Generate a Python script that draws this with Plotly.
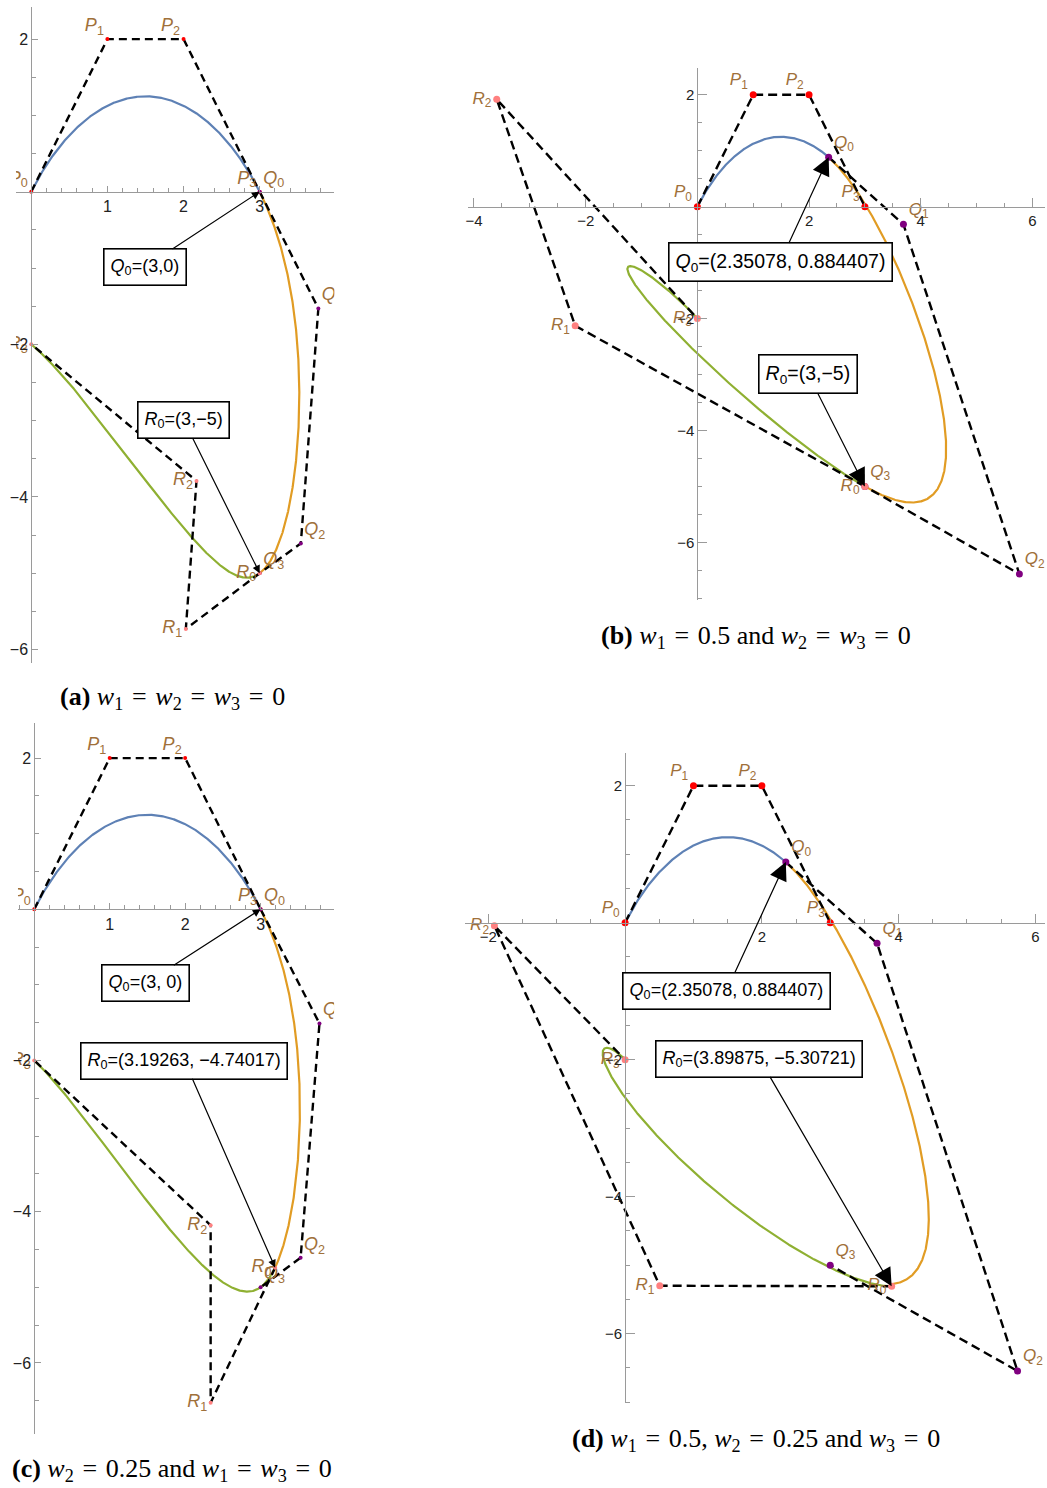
import numpy as np
import plotly.graph_objects as go

FIG_W, FIG_H = 1047, 1488

# Control polygon of the first curve (identical in all four cases)
P_X = [0, 1, 2, 3]
P_Y = [0, 2, 2, 0]

# Shape parameter of the quartic Bezier-like basis, one per curve
LAM_P = -1.0
LAM_Q = 0.3
LAM_R = -1.5

# (a) w1 = w2 = w3 = 0
A_Q_X = [3, 3.77, 3.54, 3]
A_Q_Y = [0, -1.53, -4.61, -5]
A_R_X = [3, 2.03, 2.17, 0]
A_R_Y = [-5, -5.73, -3.79, -2]

# (b) w1 = 0.5, w2 = w3 = 0
B_Q_X = [2.35078, 3.69, 5.766, 3]
B_Q_Y = [0.884407, -0.315, -6.565, -5]
B_R_X = [3, -2.188, -3.593, 0]
B_R_Y = [-5, -2.127, 1.92, -2]

# (c) w2 = 0.25, w1 = w3 = 0
C_Q_X = [3, 3.78, 3.53, 3]
C_Q_Y = [0, -1.51, -4.61, -5]
C_R_X = [3.19263, 2.338, 2.338, 0]
C_R_Y = [-4.74017, -6.526, -4.18, -2]

# (d) w1 = 0.5, w2 = 0.25, w3 = 0
D_Q_X = [2.35078, 3.685, 5.74, 3]
D_Q_Y = [0.884407, -0.30, -6.545, -5]
D_R_X = [3.89875, 0.507, -1.912, 0]
D_R_Y = [-5.30721, -5.30, -0.044, -2]

# Axis tick values
X_TICKS_AC = [1, 2, 3]
X_TICKS_B = [-4, -2, 2, 4, 6]
X_TICKS_D = [-2, 2, 4, 6]
Y_TICKS = [-6, -4, -2, 2]

EQ = "\u2004=\u2004"
W = "<i>w</i>"
CAPTIONS = [
    f"<b>(a)</b> {W}<sub>1</sub>{EQ}{W}<sub>2</sub>{EQ}{W}<sub>3</sub>{EQ}0",
    f"<b>(b)</b> {W}<sub>1</sub>{EQ}0.5 and {W}<sub>2</sub>{EQ}{W}<sub>3</sub>{EQ}0",
    f"<b>(c)</b> {W}<sub>2</sub>{EQ}0.25 and {W}<sub>1</sub>{EQ}{W}<sub>3</sub>{EQ}0",
    f"<b>(d)</b> {W}<sub>1</sub>{EQ}0.5, {W}<sub>2</sub>{EQ}0.25 and {W}<sub>3</sub>{EQ}0",
]

# Colours
BLUE, ORANGE, GREEN = "#5E81B5", "#E19C24", "#8FB032"
RED, PURPLE, PINK = "#FF0000", "#800080", "#FF8080"
LABEL_COL = "#A0703A"
AXIS_COL = "#9A9A9A"
SANS = "Liberation Sans, Arial, sans-serif"
SERIF = "Liberation Serif, Times New Roman, serif"

# Panel geometry (pixel boxes of each plot range, origin pixel, px per unit) and styling
PANELS = [
    dict(qx=A_Q_X, qy=A_Q_Y, rx=A_R_X, ry=A_R_Y, xticks=X_TICKS_AC,
         box=(14, 7.3, 333, 662.7), origin=(29.3, 191.7), scale=76.3,
         xminor=0.2, yminor=0.5, tlen=(6, 4), tickfs=16, dot=4, labfs=18,
         dash="8px,5px", notefs=18, qsep=",", rsep=",",
         qbox=(1.49, -0.99), rbox=(2.0, -2.99), head=1.3, cap=(170.5, 698)),
    dict(qx=B_Q_X, qy=B_Q_Y, rx=B_R_X, ry=B_R_Y, xticks=X_TICKS_B,
         box=(466.7, 68.3, 1045, 600), origin=(696.7, 206.7), scale=55.95,
         xminor=0.5, yminor=0.5, tlen=(9, 4), tickfs=15, dot=7, labfs=17,
         dash="9px,5px", notefs=19.5, qsep=", ", rsep=",",
         qbox=(1.48, -0.99), rbox=(1.98, -2.985), head=3.0, cap=(755.5, 637)),
    dict(qx=C_Q_X, qy=C_Q_Y, rx=C_R_X, ry=C_R_Y, xticks=X_TICKS_AC,
         box=(16, 723.3, 332.7, 1434), origin=(32.3, 909.3), scale=75.6,
         xminor=0.2, yminor=0.5, tlen=(6, 4), tickfs=16, dot=4, labfs=18,
         dash="8px,5px", notefs=18, qsep=", ", rsep=", ",
         qbox=(1.475, -0.98), rbox=(1.99, -2.0), head=1.3, cap=(170, 1470)),
    dict(qx=D_Q_X, qy=D_Q_Y, rx=D_R_X, ry=D_R_Y, xticks=X_TICKS_D,
         box=(464, 753.3, 1045, 1403.3), origin=(624.3, 922.7), scale=68.5,
         xminor=0.5, yminor=0.5, tlen=(9, 4), tickfs=15, dot=7, labfs=17,
         dash="9px,5px", notefs=18, qsep=", ", rsep=", ",
         qbox=(1.485, -0.99), rbox=(1.965, -1.985), head=3.0, cap=(755.5, 1440)),
]


def basis(t, lam):
    """Quartic Bezier-like basis with shape parameter lam (lam = 0 gives cubic Bernstein)."""
    s = 1.0 - t
    return np.vstack([
        (1 - lam * t) * s ** 3,
        t * s ** 2 * (3 + lam - lam * t),
        t ** 2 * s * (3 + lam * t),
        (1 - lam + lam * t) * t ** 3,
    ])


def curve_to(xs, ys, lam, end, n=600):
    """Sample the curve from its start up to the parameter where it reaches `end`."""
    xs = np.asarray(xs, float)
    ys = np.asarray(ys, float)
    tt = np.linspace(0, 1, 20001)
    bb = basis(tt, lam)
    cx, cy = xs @ bb, ys @ bb
    k = int(np.argmin((cx - end[0]) ** 2 + (cy - end[1]) ** 2))
    t = np.linspace(0, tt[k], n)
    bb = basis(t, lam)
    cx, cy = xs @ bb, ys @ bb
    cx[-1], cy[-1] = end
    return cx, cy


def num(v):
    return f"{v:g}".replace("-", "\u2212")


def labels(letter):
    return [f"<i>{letter}</i><sub>{i}</sub>" for i in range(4)]


def minor_vals(rng, step, major):
    v = np.arange(np.ceil(rng[0] / step) * step, rng[1] + 1e-9, step)
    return [round(float(u), 4) for u in v if all(abs(u - m) > 1e-6 for m in major)]


fig = go.Figure()
layout = dict(
    width=FIG_W, height=FIG_H, margin=dict(l=0, r=0, t=0, b=0),
    paper_bgcolor="white", plot_bgcolor="white", showlegend=False,
    annotations=[],
)

for i, pn in enumerate(PANELS):
    sfx = "" if i == 0 else str(i + 1)
    xa, ya = "x" + sfx, "y" + sfx
    left, top, right, bottom = pn["box"]
    ox, oy = pn["origin"]
    s = pn["scale"]
    xr = [(left - ox) / s, (right - ox) / s]
    yr = [(oy - bottom) / s, (oy - top) / s]

    common = dict(
        showline=True, linecolor=AXIS_COL, linewidth=1, showgrid=False, zeroline=False,
        ticks="inside", ticklen=pn["tlen"][0], tickwidth=1, tickcolor=AXIS_COL,
        tickmode="array", fixedrange=True,
        tickfont=dict(family=SANS, size=pn["tickfs"], color="#222222"),
    )
    layout["xaxis" + sfx] = dict(
        common, domain=[left / FIG_W, right / FIG_W], range=xr,
        anchor="free", position=1 - oy / FIG_H, tickvals=pn["xticks"],
        minor=dict(ticks="inside", ticklen=pn["tlen"][1], tickwidth=1, tickcolor=AXIS_COL,
                   tickmode="array", tickvals=minor_vals(xr, pn["xminor"], pn["xticks"] + [0]),
                   showgrid=False),
    )
    layout["yaxis" + sfx] = dict(
        common, domain=[1 - bottom / FIG_H, 1 - top / FIG_H], range=yr,
        anchor="free", position=ox / FIG_W, tickvals=Y_TICKS,
        minor=dict(ticks="inside", ticklen=pn["tlen"][1], tickwidth=1, tickcolor=AXIS_COL,
                   tickmode="array", tickvals=minor_vals(yr, pn["yminor"], Y_TICKS + [0]),
                   showgrid=False),
    )

    qx, qy, rx, ry = pn["qx"], pn["qy"], pn["rx"], pn["ry"]
    q0 = (qx[0], qy[0])
    r0 = (rx[0], ry[0])

    # curves
    bx, by = curve_to(P_X, P_Y, LAM_P, q0)
    ox_, oy_ = curve_to(qx, qy, LAM_Q, r0)
    gx, gy = curve_to(rx, ry, LAM_R, (rx[3], ry[3]))
    for cx, cy, col in ((bx, by, BLUE), (ox_, oy_, ORANGE), (gx, gy, GREEN)):
        fig.add_trace(go.Scatter(x=cx, y=cy, mode="lines", xaxis=xa, yaxis=ya,
                                 line=dict(color=col, width=2.2), hoverinfo="skip"))

    # control polygons
    for px_, py_ in ((P_X, P_Y), (qx, qy), (rx, ry)):
        fig.add_trace(go.Scatter(x=px_, y=py_, mode="lines", xaxis=xa, yaxis=ya,
                                 line=dict(color="black", width=2.4, dash=pn["dash"]),
                                 hoverinfo="skip"))

    # control points with their labels
    for px_, py_, col, let, pos in ((P_X, P_Y, RED, "P", "top left"),
                                    (qx, qy, PURPLE, "Q", "top right"),
                                    (rx, ry, PINK, "R", "middle left")):
        fig.add_trace(go.Scatter(
            x=px_, y=py_, mode="markers+text", xaxis=xa, yaxis=ya,
            marker=dict(color=col, size=pn["dot"]),
            text=labels(let), textposition=pos, cliponaxis=True,
            textfont=dict(family=SANS, size=pn["labfs"], color=LABEL_COL),
            hoverinfo="skip"))

    # boxed call-outs for Q0 and R0
    for pt, let, sep, bpos in ((q0, "Q", pn["qsep"], pn["qbox"]),
                               (r0, "R", pn["rsep"], pn["rbox"])):
        layout["annotations"].append(dict(
            x=pt[0], y=pt[1], xref=xa, yref=ya, axref=xa, ayref=ya,
            ax=bpos[0], ay=bpos[1],
            text=f"<i>{let}</i><sub>0</sub>=({num(pt[0])}{sep}{num(pt[1])})",
            font=dict(family=SANS, size=pn["notefs"], color="black"),
            showarrow=True, arrowhead=2, arrowsize=pn["head"], arrowwidth=1.2,
            arrowcolor="black", standoff=0,
            bgcolor="white", bordercolor="black", borderwidth=1.6, borderpad=6,
        ))

    # caption
    layout["annotations"].append(dict(
        x=pn["cap"][0] / FIG_W, y=1 - pn["cap"][1] / FIG_H, xref="paper", yref="paper",
        xanchor="center", yanchor="middle", showarrow=False, text=CAPTIONS[i],
        font=dict(family=SERIF, size=26, color="black"),
    ))

fig.update_layout(**layout)
fig.write_html("out.html")
